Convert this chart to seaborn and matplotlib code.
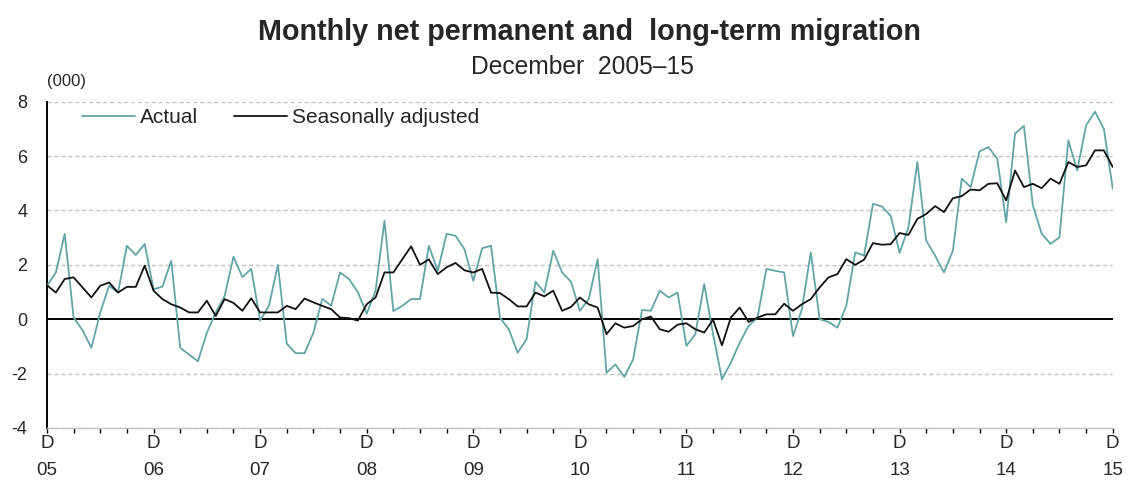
import numpy as np
import pandas as pd
import matplotlib
matplotlib.use("Agg")
import matplotlib.pyplot as plt
import seaborn as sns

# Monthly values, Dec 2005 .. Dec 2015 (thousands)
actual = [1.23, 1.72, 3.14, 0.06, -0.4, -1.05, 0.25, 1.23, 0.98, 2.7, 2.36, 2.77,
          1.1, 1.2, 2.15, -1.05, -1.3, -1.55, -0.5, 0.25, 0.85, 2.3, 1.55, 1.85,
          -0.05, 0.5, 2.0, -0.9, -1.25, -1.25, -0.5, 0.75, 0.5, 1.72, 1.48, 1.0,
          0.2, 1.05, 3.63, 0.3, 0.49, 0.74, 0.74, 2.7, 1.78, 3.14, 3.07, 2.58,
          1.41, 2.61, 2.7, 0.06, -0.37, -1.23, -0.74, 1.38, 0.98, 2.52, 1.72, 1.38,
          0.31, 0.74, 2.21, -1.97, -1.66, -2.12, -1.48, 0.34, 0.31, 1.05, 0.8, 0.98,
          -0.98, -0.55, 1.29, -0.55, -2.21, -1.6, -0.86, -0.25, 0.06, 1.85, 1.78, 1.72,
          -0.62, 0.37, 2.46, 0.0, -0.1, -0.31, 0.49, 2.46, 2.34, 4.24, 4.15, 3.8,
          2.44, 3.38, 5.78, 2.89, 2.34, 1.72, 2.52, 5.17, 4.86, 6.17, 6.33, 5.9,
          3.57, 6.83, 7.11, 4.2, 3.14, 2.77, 3.01, 6.58, 5.47, 7.13, 7.63, 7.0,
          4.8]
seas_adj = [1.25, 0.98, 1.48, 1.54, 1.17, 0.8, 1.23, 1.35, 0.98, 1.19, 1.19, 1.97,
            1.05, 0.74, 0.55, 0.43, 0.25, 0.25, 0.68, 0.12, 0.74, 0.6, 0.31, 0.77,
            0.25, 0.25, 0.25, 0.49, 0.37, 0.76, 0.62, 0.49, 0.37, 0.06, 0.04, -0.05,
            0.55, 0.8, 1.72, 1.72, 2.2, 2.68, 2.0, 2.2, 1.66, 1.91, 2.07, 1.8,
            1.72, 1.85, 0.98, 0.96, 0.74, 0.47, 0.47, 0.98, 0.84, 1.05, 0.31, 0.45,
            0.8, 0.55, 0.43, -0.55, -0.15, -0.31, -0.25, 0.0, 0.1, -0.37, -0.46, -0.2,
            -0.15, -0.37, -0.49, -0.02, -0.96, 0.06, 0.43, -0.1, 0.06, 0.18, 0.18, 0.57,
            0.31, 0.55, 0.74, 1.17, 1.54, 1.66, 2.21, 2.0, 2.19, 2.8, 2.74, 2.76,
            3.17, 3.1, 3.69, 3.87, 4.16, 3.94, 4.45, 4.53, 4.77, 4.74, 4.98, 5.0,
            4.37, 5.47, 4.86, 4.98, 4.82, 5.17, 4.98, 5.78, 5.6, 5.66, 6.21, 6.21,
            5.6]
year_labels = ["05", "06", "07", "08", "09", "10", "11", "12", "13", "14", "15"]

month = np.arange(len(actual))
df = pd.DataFrame({
    "month": np.concatenate([month, month]),
    "value": actual + seas_adj,
    "series": ["Actual"] * len(actual) + ["Seasonally adjusted"] * len(seas_adj),
})

sns.set_style("white")
plt.rcParams["font.family"] = ["Liberation Sans", "DejaVu Sans"]

fig = plt.figure(figsize=(11.29, 4.88), dpi=100)
ax = fig.add_axes([0.0416, 0.123, 0.944, 0.6686])

# gridlines (dashed grey) and zero line
for yv in [8, 6, 4, 2, -2, -4]:
    ax.axhline(yv, color="#c4c4c4", lw=1.0, ls=(0, (3, 2)), zorder=0)
ax.axhline(0, color="black", lw=1.4, zorder=1)

pal = {"Actual": "#63a4a6", "Seasonally adjusted": "#111111"}
sns.lineplot(data=df, x="month", y="value", hue="series", palette=pal,
             ax=ax, legend=False, lw=1.3, zorder=3)

ax.set_xlim(0, 120)
ax.set_ylim(-4, 8)
ax.set_yticks(range(-4, 9, 2))
ax.set_yticklabels([str(v) for v in range(-4, 9, 2)], fontsize=13)
ax.set_xticks(np.arange(0, 121, 12))
ax.set_xticklabels(["D\n" + y for y in year_labels], fontsize=13.5, linespacing=1.8)
ax.set_xticks(np.arange(0, 121, 3), minor=True)
ax.tick_params(axis="x", which="both", direction="out", length=3.5, width=1,
               color="black", pad=1.5, bottom=True)
ax.tick_params(axis="y", length=0, pad=14)
ax.set_xlabel("")
ax.set_ylabel("")

for s in ["top", "right"]:
    ax.spines[s].set_visible(False)
ax.spines["left"].set_color("black")
ax.spines["left"].set_linewidth(1.4)
ax.spines["bottom"].set_color("#c4c4c4")
ax.spines["bottom"].set_linewidth(1.0)

# legend
handles = [plt.Line2D([], [], color=pal[k], lw=1.3) for k in pal]
ax.legend(handles, list(pal.keys()), loc="upper left", ncol=2, frameon=False,
          fontsize=15, handlelength=2.55, handletextpad=0.25, columnspacing=1.7,
          bbox_to_anchor=(0.015, 1.037))

fig.text(0.522, 0.934, "Monthly net permanent and  long-term migration",
         ha="center", va="center", fontsize=20.7, fontweight="bold")
fig.text(0.516, 0.862, "December  2005\u201315", ha="center", va="center", fontsize=17.7)
fig.text(0.042, 0.832, "(000)", ha="left", va="center", fontsize=12)

fig.savefig("out.png", dpi=100)
